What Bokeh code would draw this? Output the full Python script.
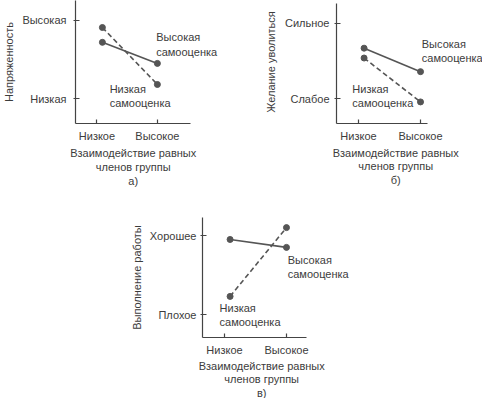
from bokeh.plotting import figure
from bokeh.layouts import column, row, Spacer
from bokeh.models import FixedTicker, ColumnDataSource
from bokeh.core.properties import value
from bokeh.embed import file_html
from bokeh.resources import INLINE

# ---- data ----
x_categories = ["Низкое", "Высокое"]
x_title = "Взаимодействие равных\nчленов группы"
series_names = ["Высокая\nсамооценка", "Низкая\nсамооценка"]
panel_letters = ["а)", "б)", "в)"]
y_titles = ["Напряженность", "Желание уволиться", "Выполнение работы"]
y_tick_labels = [["Низкая", "Высокая"], ["Слабое", "Сильное"], ["Плохое", "Хорошее"]]
x_points = [0.09, 1.0]
high_esteem = [[0.72, 0.45], [0.67, 0.36], [0.95, 0.85]]
low_esteem = [[0.91, 0.18], [0.54, -0.04], [0.23, 1.10]]

FONT = "Liberation Sans"
TXT = "#3c3c3c"
LINE = "#555555"
TITLE_X = 0.6

specs = [
    dict(w=240, h=190, l=72, r=50, t=0, b=67, xr=(-0.355, 1.548), yr=(-0.32, 1.256),
         ypx=78, toff=23.5, xb=1.548, yb=1.256, ylstand=4, ystand=7,
         hi_lab=(0.98, 0.86), lo_lab=(0.21, 0.205)),
    dict(w=242, h=190, l=96, r=28, t=0, b=65, xr=(-0.355, 1.548), yr=(-0.325, 1.30),
         ypx=77, toff=23.5, xb=1.11, yb=1.26, ylstand=5, ystand=5,
         hi_lab=(1.02, 0.805), lo_lab=(-0.1, 0.21)),
    dict(w=252, h=208, l=94, r=39, t=27, b=61, xr=(-0.355, 1.565), yr=(-0.29, 1.228),
         ypx=79, toff=22.0, xb=1.32, yb=1.228, ylstand=4, ystand=4,
         hi_lab=(1.02, 0.77), lo_lab=(-0.08, 0.165)),
]


def style_axis(ax):
    ax.axis_line_color = "#444444"
    ax.axis_line_width = 1.2
    ax.major_tick_line_color = "#444444"
    ax.major_tick_line_width = 1.2
    ax.minor_tick_line_color = None
    ax.major_tick_in = 4
    ax.major_label_text_font = FONT
    ax.major_label_text_font_size = "11px"
    ax.major_label_text_color = TXT
    ax.axis_label_text_font = FONT
    ax.axis_label_text_font_size = "11px"
    ax.axis_label_text_font_style = "normal"
    ax.axis_label_text_color = TXT


def make_panel(i):
    s = specs[i]
    p = figure(width=s["w"], height=s["h"], x_range=s["xr"], y_range=s["yr"],
               output_backend="svg", toolbar_location=None,
               min_border_left=s["l"], min_border_right=s["r"],
               min_border_top=s["t"], min_border_bottom=s["b"])
    p.outline_line_color = None
    p.grid.visible = False
    p.background_fill_color = "white"
    p.border_fill_color = "white"

    xa = p.xaxis[0]
    ya = p.yaxis[0]
    style_axis(xa)
    style_axis(ya)
    xa.ticker = FixedTicker(ticks=[0, 1])
    ya.ticker = FixedTicker(ticks=[0, 1])
    xa.major_label_overrides = {0: x_categories[0], 1: x_categories[1]}
    ya.major_label_overrides = {0: y_tick_labels[i][0], 1: y_tick_labels[i][1]}
    xa.bounds = (s["xr"][0], s["xb"])
    ya.bounds = (s["yr"][0], s["yb"])
    xa.major_tick_out = 0
    ya.major_tick_out = 2
    xa.major_label_standoff = 6
    ya.major_label_standoff = s["ystand"]
    ya.axis_label = y_titles[i]
    ya.axis_label_standoff = s["ylstand"]

    p.line(x_points, high_esteem[i], line_color=LINE, line_width=1.6)
    p.line(x_points, low_esteem[i], line_color=LINE, line_width=1.6, line_dash="5 3")
    p.scatter(x_points, high_esteem[i], size=6, color=LINE)
    p.scatter(x_points, low_esteem[i], size=6, color=LINE)

    src = ColumnDataSource(dict(
        x=[s["hi_lab"][0], s["lo_lab"][0]],
        y=[s["hi_lab"][1], s["lo_lab"][1]],
        t=series_names))
    p.text(x="x", y="y", text="t", source=src, text_font=value(FONT),
           text_font_size="11px", text_color=TXT, text_align="left",
           text_baseline="top", text_line_height=1.2, level="overlay")

    # x-axis title (two lines + panel letter), centred under the axis
    title_y = s["yr"][0] - s["toff"] / s["ypx"]
    p.text(x=[TITLE_X], y=[title_y], text=[x_title + "\n" + panel_letters[i]],
           text_font=value(FONT), text_font_size="11px", text_color=TXT,
           text_align="center", text_baseline="top", text_line_height=1.15,
           level="overlay")
    return p


p1 = make_panel(0)
p2 = make_panel(1)
p3 = make_panel(2)

layout = column(row(p1, p2), row(Spacer(width=108, height=208), p3))

open("out.html", "w").write(file_html(layout, INLINE))
